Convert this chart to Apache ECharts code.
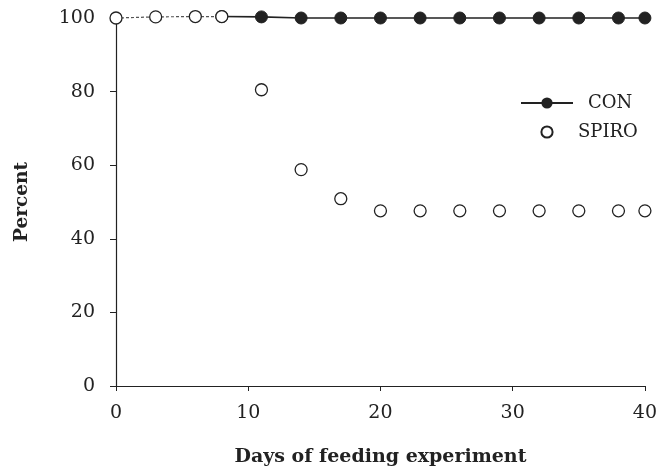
<!DOCTYPE html>
<html><head><meta charset="utf-8">
<script src="https://cdn.jsdelivr.net/npm/echarts@6/dist/echarts.min.js"></script>
<style>html,body{margin:0;padding:0;background:#fff}#c{width:660px;height:472px}</style>
</head><body><div id="c"></div>
<script>
var days = [0, 3, 6, 8, 11, 14, 17, 20, 23, 26, 29, 32, 35, 38, 40];
var conValues = [100, 100.3, 100.4, 100.4, 100.3, 100, 100, 100, 100, 100, 100, 100, 100, 100, 100];
var spiroValues = [100, 100.3, 100.4, 100.4, 80.5, 58.8, 50.9, 47.6, 47.6, 47.6, 47.6, 47.6, 47.6, 47.6, 47.6];
var xTicks = [0, 10, 20, 30, 40];
var yTicks = [0, 20, 40, 60, 80, 100];

function pairs(xs, ys, from, to) {
  var out = [];
  for (var i = from; i < to; i++) out.push([xs[i], ys[i]]);
  return out;
}
var ink = '#222';
var font = '"DejaVu Serif", "Liberation Serif", serif';
var chart = echarts.init(document.getElementById('c'));
chart.setOption({
  animation: false,
  grid: {left: 116, right: 15, top: 18, bottom: 85},
  legend: {
    left: 515, top: 89, orient: 'vertical', itemGap: 11,
    itemWidth: 52, itemHeight: 14,
    textStyle: {fontFamily: font, fontSize: 18, color: ink},
    data: [
      {name: 'CON', textStyle: {padding: [0, 0, 0, 10]}},
      {name: 'SPIRO', textStyle: {padding: [0, 0, 0, 0]}}
    ]
  },
  xAxis: {
    type: 'value', min: xTicks[0], max: xTicks[xTicks.length - 1], interval: 10,
    name: 'Days of feeding experiment', nameLocation: 'middle', nameGap: 62,
    nameTextStyle: {fontFamily: font, fontSize: 19, fontWeight: 'bold', color: ink},
    axisLine: {lineStyle: {color: ink, width: 1.2}},
    axisTick: {show: true, length: 5, lineStyle: {color: ink}},
    axisLabel: {fontFamily: font, fontSize: 19, color: ink, margin: 18},
    splitLine: {show: false}
  },
  yAxis: {
    type: 'value', min: yTicks[0], max: yTicks[yTicks.length - 1], interval: 20,
    name: 'Percent', nameLocation: 'middle', nameGap: 84, nameRotate: 90,
    nameTextStyle: {fontFamily: font, fontSize: 18.5, fontWeight: 'bold', color: ink},
    axisLine: {show: true, lineStyle: {color: ink, width: 1.2}},
    axisTick: {show: true, length: 6, lineStyle: {color: ink}},
    axisLabel: {fontFamily: font, fontSize: 19, color: ink, margin: 21},
    splitLine: {show: false}
  },
  series: [
    {
      name: 'CON-early', type: 'line', data: pairs(days, conValues, 0, 4), clip: false,
      symbol: 'none', lineStyle: {color: '#555', width: 1.2, type: [3, 2]}, z: 2
    },
    {
      name: 'CON', type: 'line', data: pairs(days, conValues, 3, days.length), clip: false,
      symbol: 'circle', symbolSize: 12,
      itemStyle: {color: ink, borderColor: ink},
      lineStyle: {color: ink, width: 1.6}, z: 3
    },
    {
      name: 'SPIRO', type: 'line', data: pairs(days, spiroValues, 0, days.length), clip: false,
      symbol: 'circle', symbolSize: 12,
      itemStyle: {color: '#fff', borderColor: ink, borderWidth: 1.3},
      lineStyle: {width: 0, opacity: 0}, z: 4
    }
  ]
});
</script></body></html>
